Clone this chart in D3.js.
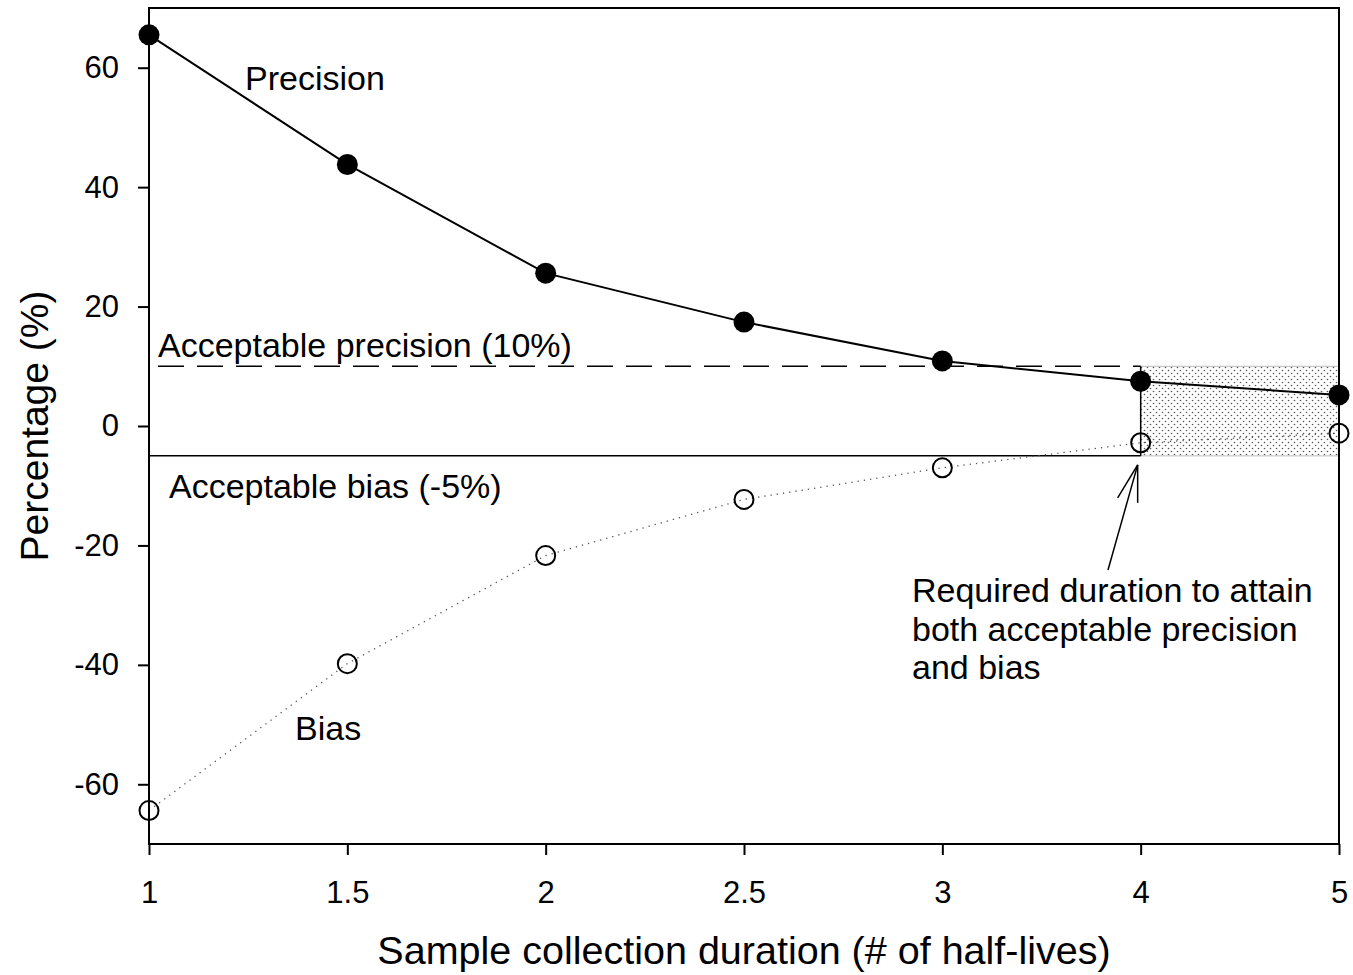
<!DOCTYPE html>
<html>
<head>
  <meta charset="utf-8">
  <script src="https://d3js.org/d3.v7.min.js"></script>
  <style type="text/css">
    body { margin: 0; background: #fff; }
    text { font-family: "Liberation Sans", Arial, sans-serif; fill: #000; }
  </style>
</head>
<body>
<svg id="chart" width="1353" height="975"></svg>

<script type="text/javascript">
// half-lives on the x axis (placed evenly, not linearly)
const durations = ['1', '1.5', '2', '2.5', '3', '4', '5'];
const precision = [65.5, 43.8, 25.6, 17.4, 10.9, 7.5, 5.2];
const bias = [-64.4, -39.8, -21.7, -12.3, -7.0, -2.8, -1.2];
const yTicks = [-60, -40, -20, 0, 20, 40, 60];
const precisionLimit = 10;
const biasLimit = -5;
const requiredDuration = '4';

var svg = d3.select('#chart');

// plot frame (window.top is reserved, hence the names)
const plotL = 149, plotR = 1339, plotT = 8, plotB = 844;

var x = d3.scalePoint().domain(durations).range([plotL, plotR]);
var y = d3.scaleLinear().domain([-70, 70]).range([plotB, plotT]);

// stipple pattern for the acceptable region
var defs = svg.append('defs');
var pat = defs.append('pattern')
  .attr('id', 'dots')
  .attr('patternUnits', 'userSpaceOnUse')
  .attr('width', 6).attr('height', 6);
pat.append('circle').attr('cx', 1.5).attr('cy', 1.5).attr('r', 0.8).attr('fill', '#555');
pat.append('circle').attr('cx', 4.5).attr('cy', 4.5).attr('r', 0.8).attr('fill', '#555');

// shaded region between required duration and the end
svg.append('rect')
  .attr('x', x(requiredDuration))
  .attr('y', y(precisionLimit))
  .attr('width', x('5') - x(requiredDuration))
  .attr('height', y(biasLimit) - y(precisionLimit))
  .attr('fill', 'url(#dots)')
  .attr('stroke', '#bbb')
  .attr('stroke-width', 1);

// acceptable precision, dashed
svg.append('line')
  .attr('x1', plotL + 9).attr('x2', x(requiredDuration))
  .attr('y1', y(precisionLimit)).attr('y2', y(precisionLimit))
  .attr('stroke', '#000').attr('stroke-width', 1.5)
  .attr('stroke-dasharray', '26,13');

// acceptable bias, solid
svg.append('line')
  .attr('x1', plotL).attr('x2', x(requiredDuration))
  .attr('y1', y(biasLimit)).attr('y2', y(biasLimit))
  .attr('stroke', '#000').attr('stroke-width', 1.5);

// vertical at required duration
svg.append('line')
  .attr('x1', x(requiredDuration)).attr('x2', x(requiredDuration))
  .attr('y1', y(precisionLimit)).attr('y2', y(biasLimit))
  .attr('stroke', '#000').attr('stroke-width', 1.5);

var line = d3.line().x((d, i) => x(durations[i])).y(d => y(d));

svg.append('path')
  .datum(bias)
  .attr('d', line)
  .attr('fill', 'none')
  .attr('stroke', '#555')
  .attr('stroke-width', 1.3)
  .attr('stroke-dasharray', '1.3,5');

svg.append('path')
  .datum(precision)
  .attr('d', line)
  .attr('fill', 'none')
  .attr('stroke', '#000')
  .attr('stroke-width', 2);

svg.selectAll('.bias-pt').data(bias)
  .enter()
  .append('circle')
  .attr('class', 'bias-pt')
  .attr('cx', (d, i) => x(durations[i]))
  .attr('cy', d => y(d))
  .attr('r', 9.5)
  .attr('fill', 'none')
  .attr('stroke', '#000')
  .attr('stroke-width', 2);

svg.selectAll('.prec-pt').data(precision)
  .enter()
  .append('circle')
  .attr('class', 'prec-pt')
  .attr('cx', (d, i) => x(durations[i]))
  .attr('cy', d => y(d))
  .attr('r', 10.5)
  .attr('fill', '#000');

// frame
svg.append('rect')
  .attr('x', plotL).attr('y', plotT)
  .attr('width', plotR - plotL).attr('height', plotB - plotT)
  .attr('fill', 'none').attr('stroke', '#000').attr('stroke-width', 2);

// axes
var xAxis = svg.append('g')
  .attr('transform', `translate(0,${plotB})`)
  .call(d3.axisBottom(x).tickSize(11).tickPadding(26));
var yAxis = svg.append('g')
  .attr('transform', `translate(${plotL},0)`)
  .call(d3.axisLeft(y).tickValues(yTicks).tickFormat(d => String(d)).tickSize(11).tickPadding(19));

[xAxis, yAxis].forEach(g => {
  g.select('.domain').remove();
  g.selectAll('line').attr('stroke', '#000').attr('stroke-width', 2);
  g.selectAll('text')
    .style('font-family', '"Liberation Sans", Arial, sans-serif')
    .style('font-size', '31px')
    .attr('fill', '#000');
});

// axis titles
svg.append('text')
  .attr('x', (plotL + plotR) / 2).attr('y', 964)
  .attr('text-anchor', 'middle')
  .style('font-size', '39.5px')
  .text('Sample collection duration (# of half-lives)');

svg.append('text')
  .attr('transform', `translate(48,${(plotT + plotB) / 2}) rotate(-90)`)
  .attr('text-anchor', 'middle')
  .style('font-size', '39px')
  .text('Percentage (%)');

// annotations
const notes = [
  { t: 'Precision', x: 245, y: 90 },
  { t: 'Bias', x: 295, y: 740 },
  { t: 'Acceptable precision (10%)', x: 158, y: 357 },
  { t: 'Acceptable bias (-5%)', x: 169, y: 498 },
  { t: 'Required duration to attain', x: 912, y: 602 },
  { t: 'both acceptable precision', x: 912, y: 641 },
  { t: 'and bias', x: 912, y: 679 }
];
svg.selectAll('.note').data(notes)
  .enter()
  .append('text')
  .attr('class', 'note')
  .attr('x', d => d.x).attr('y', d => d.y)
  .style('font-size', '34px')
  .text(d => d.t);

// arrow pointing at required duration
var tipX = x(requiredDuration) - 3, tipY = y(biasLimit) + 9;
var arrow = svg.append('g').attr('stroke', '#000').attr('stroke-width', 1.5).attr('fill', 'none');
arrow.append('line').attr('x1', 1108).attr('y1', 570).attr('x2', tipX).attr('y2', tipY);
arrow.append('line').attr('x1', tipX).attr('y1', tipY).attr('x2', tipX - 20).attr('y2', tipY + 33);
arrow.append('line').attr('x1', tipX).attr('y1', tipY).attr('x2', tipX).attr('y2', tipY + 38);
</script>
</body>
</html>
